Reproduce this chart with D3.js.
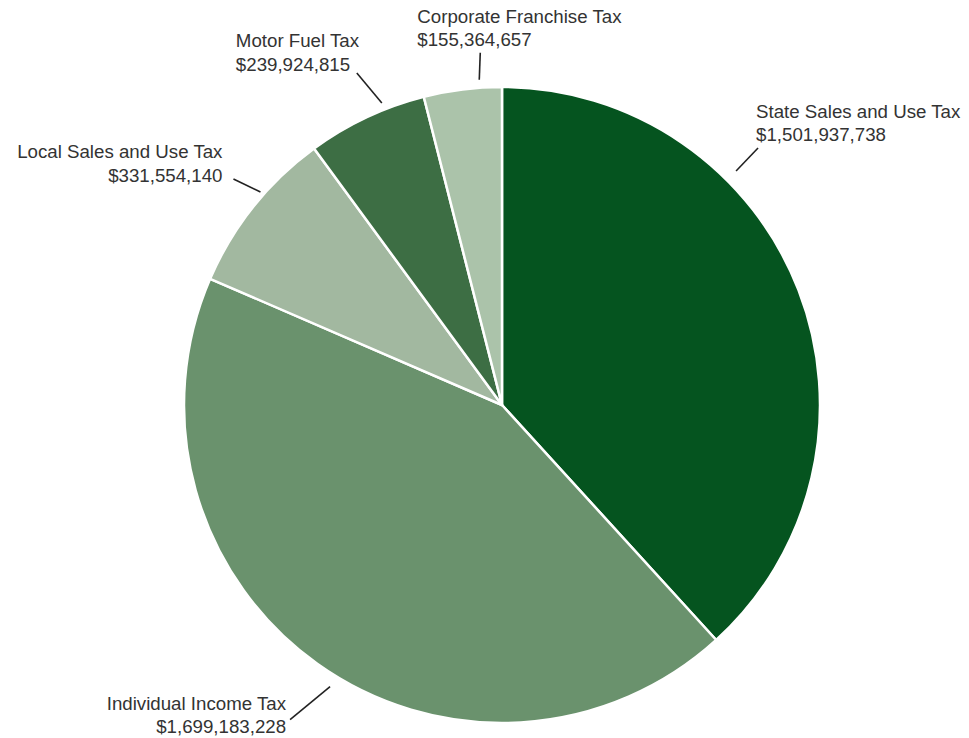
<!DOCTYPE html>
<html>
<head>
<meta charset="utf-8">
<script src="https://cdn.jsdelivr.net/npm/d3@7"></script>
<style>
  html, body { margin: 0; padding: 0; background: #ffffff; }
  svg { display: block; }
  text { font-family: "Liberation Sans", Arial, sans-serif; fill: #333333; }
</style>
</head>
<body>
<svg id="chart" width="969" height="738"></svg>
<script>
// ---- data ----
const categories = [
  "State Sales and Use Tax",
  "Individual Income Tax",
  "Local Sales and Use Tax",
  "Motor Fuel Tax",
  "Corporate Franchise Tax"
];
const values = [1501937738, 1699183228, 331554140, 239924815, 155364657];
const colors = ["#05541f", "#6a926d", "#a2b8a0", "#3d6e44", "#abc3aa"];

// ---- layout (label placement, not data) ----
const cx = 502, cy = 405, radius = 318;
// leader line: start angle (deg, clockwise from top), start radius, end offset
const labelLayout = [
  { ang: 45,    r: 331, dx: 22,  dy: -23, anchor: "start", tx: -2,  ty: -30 },
  { ang: 211.4, r: 330, dx: -40, dy: 33,  anchor: "end",   tx: -4,  ty: -10 },
  { ang: 311.4, r: 322, dx: -27, dy: -13, anchor: "end",   tx: -11, ty: -21 },
  { ang: 338.3, r: 325, dx: -25, dy: -30, anchor: "start", tx: -121, ty: -26 },
  { ang: 356,   r: 326, dx: 1,   dy: -27, anchor: "start", tx: -63, ty: -30 }
];

const fmt = v => "$" + d3.format(",")(v);

const svg = d3.select("#chart");
const g = svg.append("g").attr("transform", `translate(${cx},${cy})`);

const pie = d3.pie().sort(null).value(d => d.value);
const arc = d3.arc().innerRadius(0).outerRadius(radius);

const data = categories.map((c, i) => ({ name: c, value: values[i], color: colors[i], layout: labelLayout[i] }));
const arcs = pie(data);

g.selectAll("path.slice")
  .data(arcs)
  .enter().append("path")
  .attr("class", "slice")
  .attr("d", arc)
  .attr("fill", d => d.data.color)
  .attr("stroke", "#ffffff")
  .attr("stroke-width", 2.5)
  .attr("stroke-linejoin", "round");

const labels = g.selectAll("g.label")
  .data(arcs)
  .enter().append("g")
  .attr("class", "label");

labels.each(function(d) {
  const L = d.data.layout;
  const a = L.ang * Math.PI / 180;
  const x1 = L.r * Math.sin(a), y1 = -L.r * Math.cos(a);
  const x2 = x1 + L.dx, y2 = y1 + L.dy;
  const sel = d3.select(this);
  sel.append("line")
    .attr("x1", x1).attr("y1", y1)
    .attr("x2", x2).attr("y2", y2)
    .attr("stroke", "#222222")
    .attr("stroke-width", 1.6);
  const t = sel.append("text")
    .attr("text-anchor", L.anchor)
    .attr("font-size", 18.7);
  t.append("tspan")
    .attr("x", x2 + L.tx).attr("y", y2 + L.ty)
    .text(d.data.name);
  t.append("tspan")
    .attr("x", x2 + L.tx).attr("y", y2 + L.ty + 23.5)
    .text(fmt(d.data.value));
});
</script>
</body>
</html>
